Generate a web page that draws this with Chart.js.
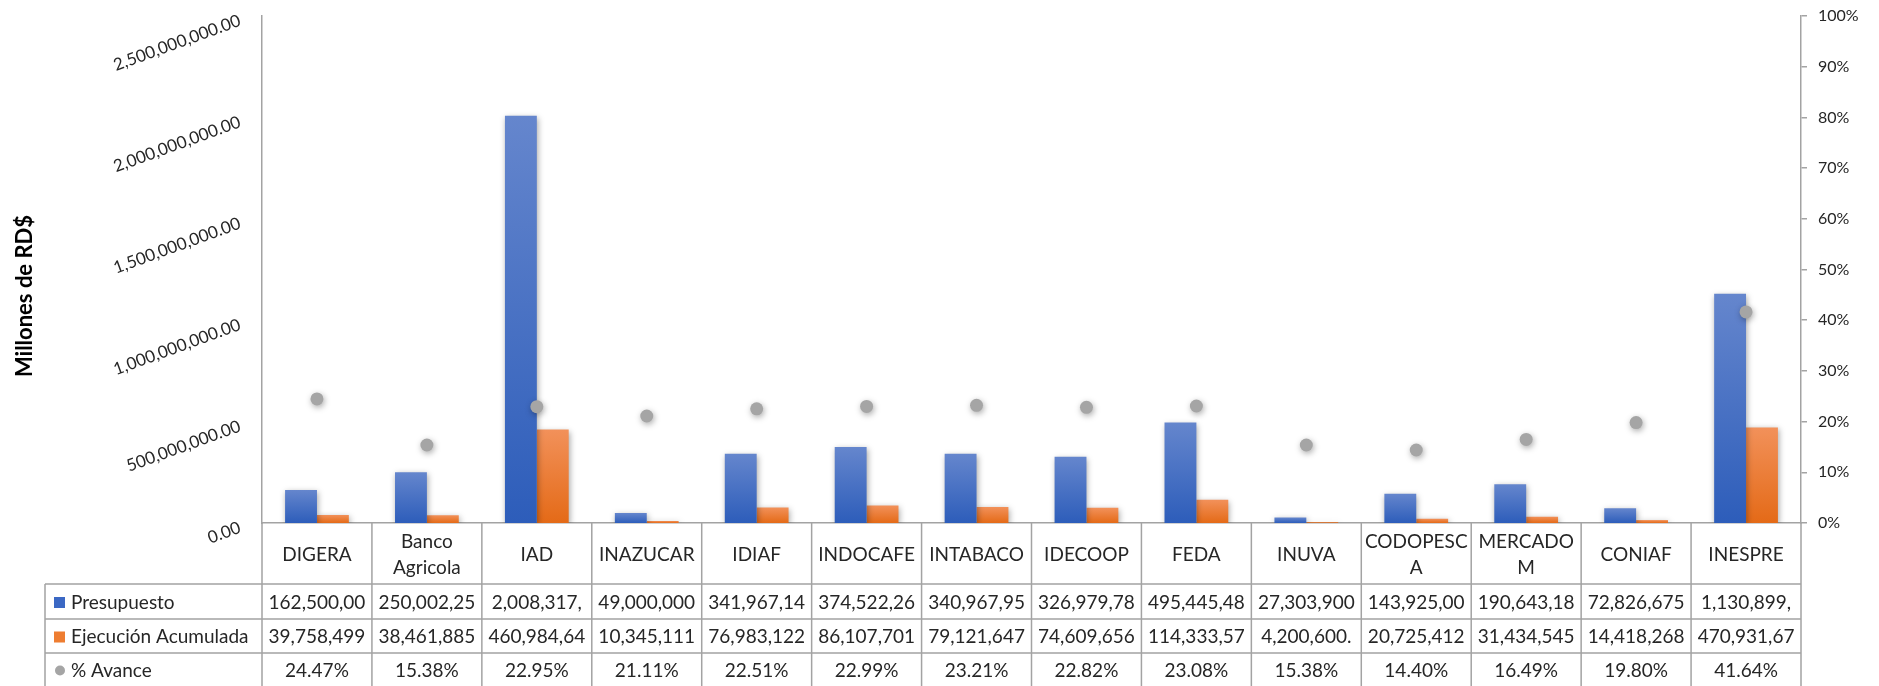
<!DOCTYPE html>
<html>
<head>
<meta charset="utf-8">
<script src="https://cdn.jsdelivr.net/npm/chart.js@4.4.1/dist/chart.umd.min.js"></script>
<style>
  html, body { margin: 0; padding: 0; background: #fff; }
  #wrap { width: 1879px; height: 686px; position: relative; }
</style>
</head>
<body>
<div id="wrap"><canvas id="avanceChart"></canvas></div>
<script>
'use strict';

// ── Data ──────────────────────────────────
const categories  = [['DIGERA'], ['Banco', 'Agricola'], ['IAD'], ['INAZUCAR'], ['IDIAF'], ['INDOCAFE'], ['INTABACO'],
                     ['IDECOOP'], ['FEDA'], ['INUVA'], ['CODOPESC', 'A'], ['MERCADO', 'M'], ['CONIAF'], ['INESPRE']];
const presupuesto = [162500000, 250002250, 2008317000, 49000000, 341967140, 374522260, 340967950,
                     326979780, 495445480, 27303900, 143925000, 190643180, 72826675, 1130899000];
const ejecucion   = [39758499, 38461885, 460984640, 10345111, 76983122, 86107701, 79121647,
                     74609656, 114333570, 4200600, 20725412, 31434545, 14418268, 470931670];
const avance      = [24.47, 15.38, 22.95, 21.11, 22.51, 22.99, 23.21, 22.82, 23.08, 15.38, 14.40, 16.49, 19.80, 41.64];
const seriesNames = ['Presupuesto', 'Ejecución Acumulada', '% Avance'];
const yTitle      = 'Millones de RD$';

const FONT   = "Lato, 'Noto Sans', sans-serif";
const TEXT   = '#262626';
const LINE   = '#a3a3a3';

// excel clips cell text to the column width (10 chars here)
const cellMoney = v => v.toLocaleString('en-US', { minimumFractionDigits: 2, maximumFractionDigits: 2 }).slice(0, 10);
const cellPct   = v => v.toFixed(2) + '%';

function barGradient(top, bottom) {
  return c => {
    const chart = c.chart;
    if (!chart.chartArea || c.type !== 'data') return bottom;
    const y = chart.scales.y;
    const yTop = y.getPixelForValue(c.raw), yBase = y.getPixelForValue(0);
    if (!isFinite(yTop) || yBase - yTop < 1) return bottom;
    const g = chart.ctx.createLinearGradient(0, yTop, 0, yBase);
    g.addColorStop(0, top);
    g.addColorStop(1, bottom);
    return g;
  };
}

// ── soft drop shadow on bars and markers ──
const shadowPlugin = {
  id: 'shadow',
  beforeDatasetDraw(chart) {
    const ctx = chart.ctx;
    ctx.save();
    ctx.shadowColor = 'rgba(0,0,0,0.35)';
    ctx.shadowBlur = 6;
    ctx.shadowOffsetX = 1;
    ctx.shadowOffsetY = 2;
  },
  afterDatasetDraw(chart) { chart.ctx.restore(); }
};

// ── data table under the plot + axis title ──
const tablePlugin = {
  id: 'dataTable',
  afterDraw(chart) {
    const ctx = chart.ctx;
    const xs = chart.scales.x;
    const n = categories.length;
    const colW = (xs.right - xs.left) / n;
    const top = chart.chartArea.bottom;
    const rows = [top, 584, 619, 653, 700];
    const legendLeft = 45;

    ctx.save();
    ctx.strokeStyle = LINE;
    ctx.lineWidth = 1.5;
    ctx.beginPath();
    for (let i = 0; i <= n; i++) {
      const x = xs.left + i * colW;
      ctx.moveTo(x, top); ctx.lineTo(x, rows[4]);
    }
    ctx.moveTo(legendLeft, rows[1]); ctx.lineTo(legendLeft, rows[4]);
    for (let r = 1; r <= 3; r++) {
      ctx.moveTo(legendLeft, rows[r]); ctx.lineTo(xs.right, rows[r]);
    }
    ctx.stroke();

    ctx.fillStyle = TEXT;
    ctx.font = '19px ' + FONT;
    ctx.textAlign = 'center';
    ctx.textBaseline = 'middle';

    // category row
    categories.forEach((lines, i) => {
      const cx = xs.getPixelForValue(i);
      const cy = (rows[0] + rows[1]) / 2 + 1;
      const lh = 26;
      lines.forEach((t, k) => ctx.fillText(t, cx, cy + (k - (lines.length - 1) / 2) * lh));
    });

    // value rows
    const rowText = [presupuesto.map(cellMoney), ejecucion.map(cellMoney), avance.map(cellPct)];
    rowText.forEach((vals, r) => {
      const cy = (rows[r + 1] + Math.min(rows[r + 2], 686)) / 2 + 1;
      vals.forEach((t, i) => ctx.fillText(t, xs.getPixelForValue(i), cy));
    });

    // legend column
    ctx.textAlign = 'left';
    const keys = ['#3b68c4', '#ee7d31', '#a5a5a5'];
    seriesNames.forEach((name, r) => {
      const cy = (rows[r + 1] + Math.min(rows[r + 2], 686)) / 2 + 1;
      ctx.fillStyle = keys[r];
      if (r < 2) ctx.fillRect(54, cy - 5.5, 11, 11);
      else { ctx.beginPath(); ctx.arc(60, cy, 5, 0, Math.PI * 2); ctx.fill(); }
      ctx.fillStyle = TEXT;
      ctx.fillText(name, 71, cy);
    });

    // y axis title
    ctx.translate(25, 296);
    ctx.rotate(-Math.PI / 2);
    ctx.textAlign = 'center';
    ctx.font = 'bold 22px ' + FONT;
    ctx.fillStyle = '#000';
    ctx.fillText(yTitle, 0, 0);
    ctx.restore();
  }
};

const chart = new Chart(document.getElementById('avanceChart'), {
  type: 'bar',
  data: {
    labels: categories.map(l => l.join(' ')),
    datasets: [
      {
        label: seriesNames[0], data: presupuesto, yAxisID: 'y', order: 1,
        backgroundColor: barGradient('#6586cd', '#2d5dba'),
        categoryPercentage: 0.58, barPercentage: 1.0, borderWidth: 0
      },
      {
        label: seriesNames[1], data: ejecucion, yAxisID: 'y', order: 1,
        backgroundColor: barGradient('#f2915a', '#e46a17'),
        categoryPercentage: 0.58, barPercentage: 1.0, borderWidth: 0
      },
      {
        type: 'line', label: seriesNames[2], data: avance, yAxisID: 'y1', order: 0,
        showLine: false, pointRadius: 6.5, pointHoverRadius: 6.5,
        pointBackgroundColor: '#a5a5a5', pointBorderWidth: 0, borderColor: '#a5a5a5'
      }
    ]
  },
  options: {
    responsive: true, maintainAspectRatio: false, animation: false,
    layout: { padding: { top: 16, left: 0, right: 0, bottom: 0 } },
    plugins: { legend: { display: false }, tooltip: { enabled: false } },
    scales: {
      x: {
        grid: { display: false, drawTicks: false },
        border: { color: LINE, width: 1.5 },
        ticks: { display: false },
        afterFit: s => { s.height = 686 - 523; s.paddingLeft = 0; s.paddingRight = 0; }
      },
      y: {
        position: 'left', min: 0, max: 2500000000,
        grid: { display: false, drawTicks: false },
        border: { color: LINE, width: 1.5 },
        ticks: {
          stepSize: 500000000, minRotation: 20, maxRotation: 20, padding: 22, labelOffset: 4,
          color: TEXT, font: { family: FONT, size: 17 },
          callback: v => Number(v).toLocaleString('en-US', { minimumFractionDigits: 2, maximumFractionDigits: 2 })
        },
        afterFit: s => { s.width = 262; s.paddingTop = 0; s.paddingBottom = 0; }
      },
      y1: {
        position: 'right', min: 0, max: 100,
        grid: { drawOnChartArea: false, drawTicks: true, tickLength: 6, color: LINE, lineWidth: 1.5 },
        border: { color: LINE, width: 1.5 },
        ticks: {
          stepSize: 10, padding: 11, color: TEXT, font: { family: FONT, size: 16 },
          callback: v => v + '%'
        },
        afterFit: s => { s.width = 1879 - 1801; s.paddingTop = 0; s.paddingBottom = 0; }
      }
    }
  },
  plugins: [shadowPlugin, tablePlugin]
});
</script>
</body>
</html>
